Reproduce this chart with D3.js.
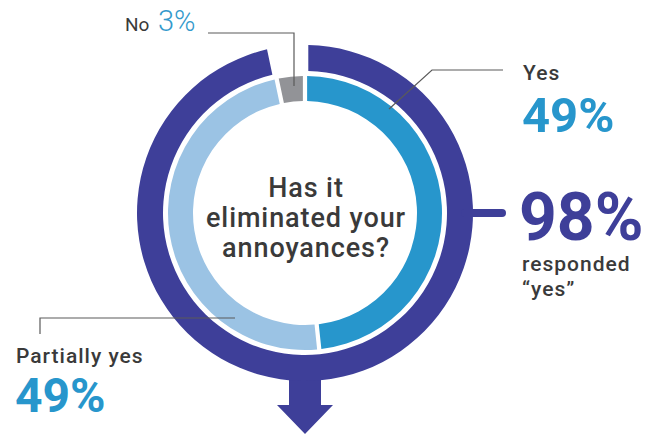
<!DOCTYPE html>
<html><head><meta charset="utf-8">
<script src="https://cdn.jsdelivr.net/npm/d3@7"></script>
<style>
html,body{margin:0;padding:0;background:#fff;}
svg{display:block;font-family:Roboto,"Liberation Sans",Arial,sans-serif;}
</style></head>
<body>
<svg id="chart" width="660" height="434"></svg>
<script>
// ---- data ----
const categories = ["Yes", "Partially yes", "No"];
const values = [49, 49, 3];
const valueLabels = ["49%", "49%", "3%"];
const totalYesLabel = "98%";
const totalYesText = ["responded", "\u201cyes\u201d"];
const question = ["Has it", "eliminated your", "annoyances?"];
const colors = ["#2796cc", "#9bc3e4", "#929397"];

// ---- layout ----
const svg = d3.select("#chart");
const cx = 305, cy = 213;
const g = svg.append("g").attr("transform", `translate(${cx},${cy})`);
const dark = "#3e3f99";
const textCol = "#3a3a3a";

const pie = d3.pie().sort(null).value(d => d).padAngle(0.024);
const arcs = pie(values);
const innerArc = d3.arc().innerRadius(112).outerRadius(137);

// outer ring covering the "yes" answers (Yes + Partially yes)
const outerArc = d3.arc().innerRadius(142).outerRadius(168)
  .startAngle(arcs[0].startAngle).endAngle(arcs[1].endAngle).padAngle(0.03);

// arrow at bottom
const arrow = d3.path();
arrow.moveTo(-16, 150); arrow.lineTo(16, 150); arrow.lineTo(16, 192);
arrow.lineTo(28, 192); arrow.lineTo(0, 221); arrow.lineTo(-28, 192);
arrow.lineTo(-16, 192); arrow.closePath();
g.append("path").attr("d", arrow.toString()).attr("fill", dark);

g.append("path").attr("d", outerArc()).attr("fill", dark);

// connector to 98%
g.append("line").attr("x1", 160).attr("x2", 197).attr("y1", 0).attr("y2", 0)
  .attr("stroke", dark).attr("stroke-width", 8).attr("stroke-linecap", "round");

g.selectAll("path.seg").data(arcs).join("path").attr("class", "seg")
  .attr("d", innerArc).attr("fill", (d, i) => colors[i]);

// leader lines (absolute coords)
const lead = svg.append("g").attr("fill", "none").attr("stroke", "#5a5a5a").attr("stroke-width", 1.2);
lead.append("polyline").attr("points", "208,33 294,33 294,86");
lead.append("polyline").attr("points", "503,70 432,70 389,109");
lead.append("polyline").attr("points", "40,334 40,318 235,318");

// center question
g.append("text").attr("text-anchor", "middle").attr("fill", textCol)
  .style("font-size", "27px").style("font-weight", 500).style("letter-spacing", "0.9px")
  .selectAll("tspan").data(question).join("tspan")
  .attr("x", 1).attr("y", (d, i) => -16 + i * 30).text(d => d);

// labels
const lab = svg.append("g");
// No 3%
lab.append("text").attr("x", 125).attr("y", 31).attr("fill", textCol)
  .style("font-size", "19px").style("font-weight", 400).text(categories[2]);
lab.append("text").attr("x", 158).attr("y", 31).attr("fill", "#3399cc")
  .style("font-size", "29px").style("font-weight", 300).text(valueLabels[2]);
// Yes 49%
lab.append("text").attr("x", 523).attr("y", 80).attr("fill", textCol)
  .style("font-size", "21px").style("font-weight", 500).style("letter-spacing", "1px").text(categories[0]);
lab.append("text").attr("x", 522).attr("y", 132).attr("fill", colors[0])
  .style("font-size", "49px").style("font-weight", 700).text(valueLabels[0]);
// 98%
lab.append("text").attr("x", 519).attr("y", 240).attr("fill", dark)
  .style("font-size", "66px").style("font-weight", 700).text(totalYesLabel);
lab.append("text").attr("fill", textCol).style("font-size", "21px").style("font-weight", 500)
  .style("letter-spacing", "1px")
  .selectAll("tspan").data(totalYesText).join("tspan")
  .attr("x", 522).attr("y", (d, i) => 271 + i * 25).text(d => d);
// Partially yes 49%
lab.append("text").attr("x", 16).attr("y", 363).attr("fill", textCol)
  .style("font-size", "21px").style("font-weight", 500).style("letter-spacing", "1px").text(categories[1]);
lab.append("text").attr("x", 15).attr("y", 412).attr("fill", colors[0])
  .style("font-size", "48px").style("font-weight", 700).text(valueLabels[1]);
</script>
</body></html>
